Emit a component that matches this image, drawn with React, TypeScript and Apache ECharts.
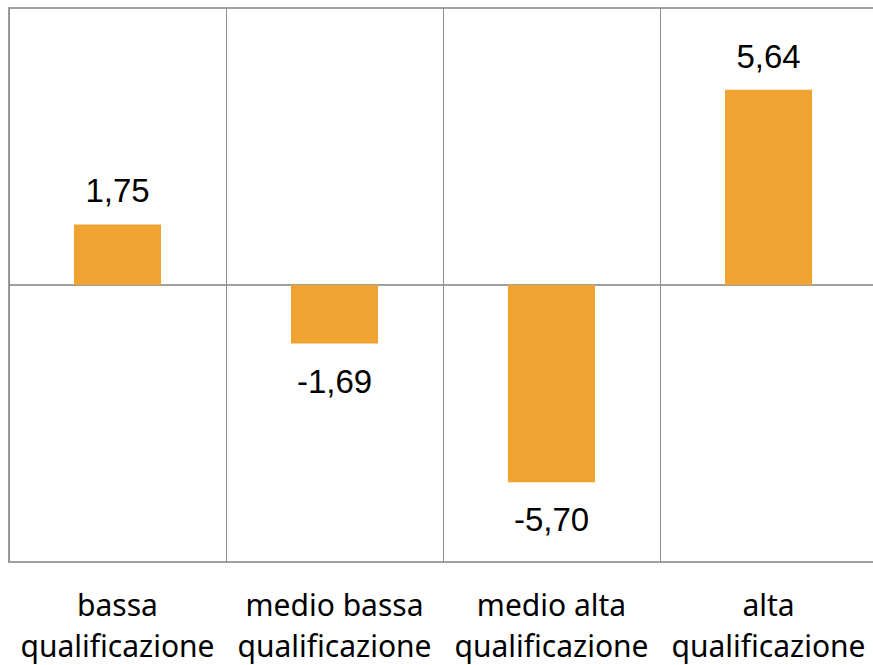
import React, { useEffect, useRef } from "react";
import * as echarts from "echarts";

const categories: string[] = [
  "bassa\nqualificazione",
  "medio bassa\nqualificazione",
  "medio alta\nqualificazione",
  "alta\nqualificazione",
];
const values: number[] = [1.75, -1.69, -5.7, 5.64];
const yMin = -8;
const yMax = 8;
const yInterval = 8;

const fmt = (v: number) => v.toFixed(2).replace(".", ",");

export default function App() {
  const ref = useRef<HTMLDivElement>(null);
  useEffect(() => {
    if (!ref.current) return;
    const chart = echarts.init(ref.current, null, { renderer: "svg" });
    chart.setOption({
      animation: false,
      grid: {
        left: 9,
        top: 8,
        width: 868,
        height: 554,
        outerBoundsMode: "none",
        containLabel: false,
        show: true,
        borderColor: "#a0a0a0",
        borderWidth: 2,
        backgroundColor: "transparent",
      },
      xAxis: {
        type: "category",
        data: categories,
        axisLine: { show: false, onZero: false },
        axisTick: { show: false },
        splitLine: { show: true, lineStyle: { color: "#8c8c8c", width: 1 } },
        axisLabel: {
          interval: 0,
          margin: 22,
          fontFamily: "Noto Sans",
          fontSize: 30,
          lineHeight: 41,
          color: "#000",
        },
      },
      yAxis: {
        type: "value",
        min: yMin,
        max: yMax,
        interval: yInterval,
        axisLine: { show: false },
        axisTick: { show: false },
        axisLabel: { show: false },
        splitLine: { show: true, lineStyle: { color: "#a0a0a0", width: 2 } },
      },
      series: [
        {
          type: "bar",
          barWidth: 87,
          itemStyle: { color: "#EFA431" },
          data: values.map((v) => ({
            value: v,
            label: {
              show: true,
              position: v >= 0 ? "top" : "bottom",
              distance: v >= 0 ? 17 : 21,
              formatter: () => fmt(v),
              fontFamily: "Liberation Sans",
              fontSize: 33,
              color: "#000",
            },
          })),
        },
      ],
    });
    return () => chart.dispose();
  }, []);
  return (
    <div
      ref={ref}
      style={{ position: "fixed", left: 0, top: 0, width: 873, height: 665, background: "#fff" }}
    />
  );
}
